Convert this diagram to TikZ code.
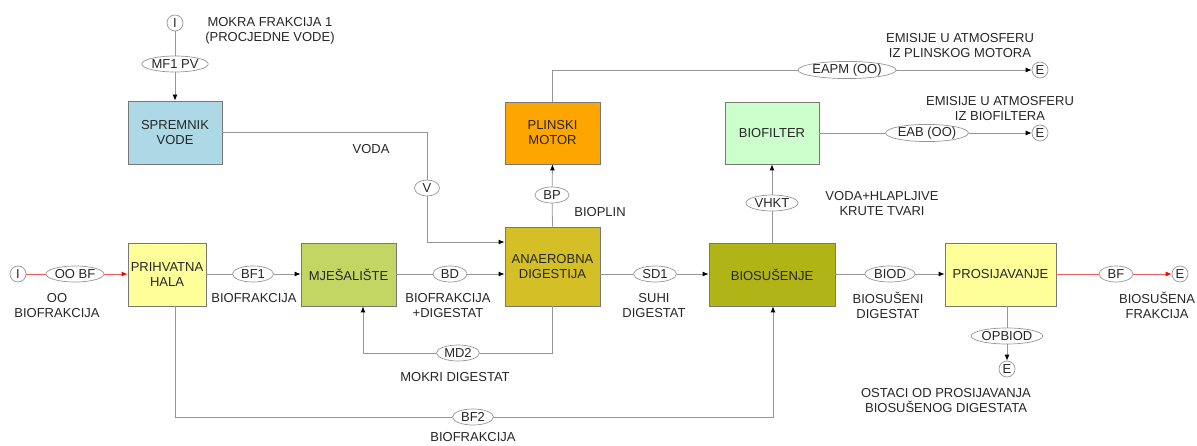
\documentclass[tikz,border=0pt]{standalone}
\usepackage{fontspec}
\setmainfont{Liberation Sans}
\usetikzlibrary{shapes.geometric,arrows.meta}
\definecolor{lnc}{RGB}{150,150,150}
\definecolor{boxc}{RGB}{120,120,120}
\definecolor{cSpr}{RGB}{173,216,230}
\definecolor{cPlin}{RGB}{255,165,0}
\definecolor{cBiof}{RGB}{204,255,204}
\definecolor{cYel}{RGB}{255,255,153}
\definecolor{cMje}{RGB}{195,214,100}
\definecolor{cAna}{RGB}{213,191,38}
\definecolor{cBios}{RGB}{176,180,22}
\definecolor{cRed}{RGB}{245,90,90}
\begin{document}
\begin{tikzpicture}[x=1pt,y=-1pt,
  every node/.style={font=\fontsize{13}{15}\selectfont, text=black!85, align=center},
  box/.style={draw=boxc, line width=0.8pt, inner sep=0pt},
  lbl/.style={draw=lnc, line width=0.7pt, ellipse, fill=white, inner sep=0pt, minimum height=16pt},
  term/.style={draw=lnc, line width=0.7pt, circle, fill=white, inner sep=0pt, minimum size=16pt},
  txt/.style={inner sep=0pt},
  ln/.style={draw=lnc, line width=0.8pt},
  arr/.style={ln, -{Latex[length=6pt,width=5pt,color=black]}},
  rln/.style={draw=cRed, line width=0.8pt},
  rarr/.style={rln, -{Latex[length=6pt,width=5pt,color=red]}}
]
\useasboundingbox (0,0) rectangle (1197,446);

% boxes
\node[box, fill=cSpr, minimum width=94pt, minimum height=63pt] (spremnik) at (175,132.5) {SPREMNIK\\VODE};
\node[box, fill=cPlin, minimum width=95pt, minimum height=62pt] (plinski) at (552.5,133) {PLINSKI\\MOTOR};
\node[box, fill=cBiof, minimum width=94pt, minimum height=62pt] (biofilter) at (772,133) {BIOFILTER};
\node[box, fill=cYel, minimum width=78pt, minimum height=63pt] (prihvatna) at (167,274.5) {PRIHVATNA\\HALA};
\node[box, fill=cMje, minimum width=95pt, minimum height=63pt] (mjesaliste) at (348.5,274.5) {MJEŠALIŠTE};
\node[box, fill=cAna, minimum width=95pt, minimum height=79pt] (anaerobna) at (552.5,266.5) {ANAEROBNA\\DIGESTIJA};
\node[box, fill=cBios, minimum width=126pt, minimum height=63pt] (biosusenje) at (772,274.5) {BIOSUŠENJE};
\node[box, fill=cYel, minimum width=111pt, minimum height=63pt] (prosijavanje) at (1000.5,274.5) {PROSIJAVANJE};

% terminals
\node[term] (iTop) at (175,23) {I};
\node[term] (iLeft) at (18,274) {I};
\node[term] (eE1) at (1040,70) {E};
\node[term] (eE2) at (1040,133) {E};
\node[term] (eBF) at (1180,274) {E};
\node[term] (eOP) at (1007,369) {E};

% flow labels
\node[lbl, minimum width=64pt] (mf1) at (175,64) {MF1 PV};
\node[lbl, minimum width=88pt] (eapm) at (847,70) {EAPM (OO)};
\node[lbl, minimum width=75pt] (eab) at (927,133) {EAB (OO)};
\node[lbl, minimum width=34pt] (bp) at (552,195) {BP};
\node[lbl, minimum width=52pt] (vhkt) at (772,203) {VHKT};
\node[lbl, minimum width=25pt] (v) at (427,188) {V};
\node[lbl, minimum width=58pt] (oobf) at (75,274) {OO BF};
\node[lbl, minimum width=41pt] (bf1) at (253,274) {BF1};
\node[lbl, minimum width=34pt] (bd) at (450,274) {BD};
\node[lbl, minimum width=43pt] (sd1) at (655,274) {SD1};
\node[lbl, minimum width=50pt] (biod) at (890,274) {BIOD};
\node[lbl, minimum width=34pt] (bf) at (1116,274) {BF};
\node[lbl, minimum width=69pt] (opbiod) at (1007,336) {OPBIOD};
\node[lbl, minimum width=43pt] (md2) at (458,353) {MD2};
\node[lbl, minimum width=41pt] (bf2) at (473,417) {BF2};

% corner coordinates
\coordinate (wc1) at (427,132.5);
\coordinate (wc2) at (427,242);
\coordinate (pc) at (552.5,70);
\coordinate (mc1) at (552.5,353);
\coordinate (mc2) at (363,353);
\coordinate (bc1) at (175,417);
\coordinate (bc2) at (773,417);

% connectors
\draw[ln] (iTop) -- (mf1);
\draw[arr] (mf1) -- (spremnik.north);
\draw[ln] (spremnik.east) -- (wc1) -- (v);
\draw[arr] (v) -- (wc2) -- (anaerobna.west |- wc2);
\draw[ln] (plinski.north) -- (pc) -- (eapm);
\draw[arr] (eapm) -- (eE1);
\draw[ln] (biofilter.east) -- (eab);
\draw[arr] (eab) -- (eE2);
\draw[ln] (anaerobna.north) -- (bp);
\draw[arr] (bp) -- (plinski.south);
\draw[ln] (biosusenje.north) -- (vhkt);
\draw[arr] (vhkt) -- (biofilter.south);
\draw[rln] (iLeft) -- (oobf);
\draw[rarr] (oobf) -- (prihvatna.west |- oobf);
\draw[ln] (prihvatna.east |- bf1) -- (bf1);
\draw[arr] (bf1) -- (mjesaliste.west |- bf1);
\draw[ln] (mjesaliste.east |- bd) -- (bd);
\draw[arr] (bd) -- (anaerobna.west |- bd);
\draw[ln] (anaerobna.east |- sd1) -- (sd1);
\draw[arr] (sd1) -- (biosusenje.west |- sd1);
\draw[ln] (biosusenje.east |- biod) -- (biod);
\draw[arr] (biod) -- (prosijavanje.west |- biod);
\draw[rln] (prosijavanje.east |- bf) -- (bf);
\draw[rarr] (bf) -- (eBF);
\draw[ln] (prosijavanje.south -| opbiod) -- (opbiod);
\draw[arr] (opbiod) -- (eOP);
\draw[ln] (anaerobna.south) -- (mc1) -- (md2);
\draw[arr] (md2) -- (mc2) -- (mc2 |- mjesaliste.south);
\draw[ln] (bc1 |- prihvatna.south) -- (bc1) -- (bf2);
\draw[arr] (bf2) -- (bc2) -- (bc2 |- biosusenje.south);

% text labels
\node[txt] (tMokra) at (270,30.5) {MOKRA FRAKCIJA 1\\(PROCJEDNE VODE)};
\node[txt] (tVoda) at (371,149) {VODA};
\node[txt] (tEm1) at (960,46) {EMISIJE U ATMOSFERU\\IZ PLINSKOG MOTORA};
\node[txt] (tEm2) at (1000,109) {EMISIJE U ATMOSFERU\\IZ BIOFILTERA};
\node[txt] (tBioplin) at (600,212) {BIOPLIN};
\node[txt] (tVhkt) at (882,203.5) {VODA+HLAPLJIVE\\KRUTE TVARI};
\node[txt] (tOO) at (57,305.5) {OO\\BIOFRAKCIJA};
\node[txt] (tBF1) at (254,298) {BIOFRAKCIJA};
\node[txt] (tBD) at (448,305.5) {BIOFRAKCIJA\\+DIGESTAT};
\node[txt] (tSD1) at (654,305.5) {SUHI\\DIGESTAT};
\node[txt] (tBiod) at (888,305.5) {BIOSUŠENI\\DIGESTAT};
\node[txt] (tBF) at (1157,305.5) {BIOSUŠENA\\FRAKCIJA};
\node[txt] (tMD2) at (455,377) {MOKRI DIGESTAT};
\node[txt] (tOst) at (946,400.5) {OSTACI OD PROSIJAVANJA\\BIOSUŠENOG DIGESTATA};
\node[txt] (tBF2) at (473,437) {BIOFRAKCIJA};
\end{tikzpicture}
\end{document}
